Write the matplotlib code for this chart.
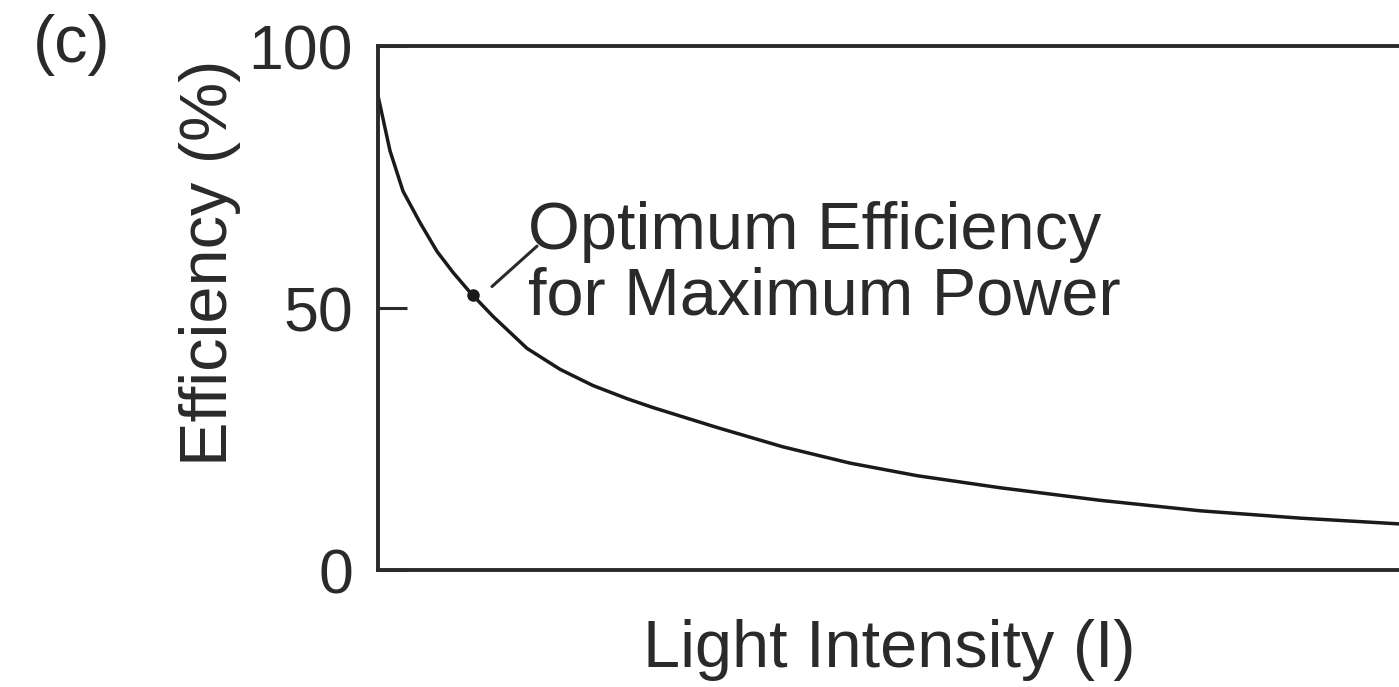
import matplotlib
matplotlib.use("Agg")
import matplotlib.pyplot as plt

# curve (intensity in arbitrary units, efficiency in %)
intensity = [0, 0.12, 0.25, 0.42, 0.59, 0.75, 0.92, 1.15, 1.49, 1.82, 2.15,
             2.49, 2.75, 3.39, 4.05, 4.72, 5.39, 6.22, 7.22, 8.22, 9.22, 10.21]
efficiency = [90.5, 80.0, 72.3, 66.3, 60.8, 56.8, 53.0, 48.4, 42.3, 38.3, 35.2,
              32.7, 31.0, 27.2, 23.5, 20.4, 18.0, 15.7, 13.3, 11.3, 9.9, 8.8]

opt_intensity = [0.95]
opt_efficiency = [52.5]

y_ticks = [0, 50, 100]
y_ticklabels = ["0", "50", "100"]

plt.rcParams['font.family'] = ['Liberation Sans', 'DejaVu Sans']
fs = 48
ink = '#2a2a2a'

fig = plt.figure(figsize=(13.99, 6.87), dpi=100)
# axes runs past the right edge, as in the cropped original
ax = fig.add_axes([378 / 1399, 117 / 687, 1100 / 1399, 524 / 687])

ax.plot(intensity, efficiency, color='#1a1a1a', lw=2.5,
        solid_capstyle='round', solid_joinstyle='round')
ax.plot(opt_intensity, opt_efficiency, 'o', color='#1a1a1a', ms=8)

ax.set_xlim(0, 11)
ax.set_ylim(0, 100)

for s in ax.spines.values():
    s.set_linewidth(2.8)
    s.set_color(ink)

ax.set_xticks([])
ax.set_yticks(y_ticks)
ax.set_yticklabels(y_ticklabels, fontsize=45, color=ink)
ax.tick_params(axis='y', direction='in', length=21, width=2.2, pad=18,
               color=ink)

ax.set_xlabel("Light Intensity (I)", fontsize=fs, color=ink, va='center')
ax.xaxis.set_label_coords(0.465, -0.153)
ax.set_ylabel("Efficiency (%)", fontsize=fs, color=ink, va='center')
ax.yaxis.set_label_coords(-0.153, 0.586)

# annotation for the optimum point
ax.annotate('', xy=(1.14, 54.1), xytext=(1.59, 61.8),
            arrowprops=dict(arrowstyle='-', lw=2.2, color=ink,
                            shrinkA=0, shrinkB=0))
ax.text(1.50, 61.2, "Optimum Efficiency", fontsize=fs, color=ink,
        ha='left', va='baseline')
ax.text(1.50, 48.8, "for Maximum Power", fontsize=fs, color=ink,
        ha='left', va='baseline')

fig.text(33 / 1399, 1 - 45 / 687, "(c)", fontsize=fs, color=ink,
         ha='left', va='center')

fig.savefig("out.png", dpi=100)
